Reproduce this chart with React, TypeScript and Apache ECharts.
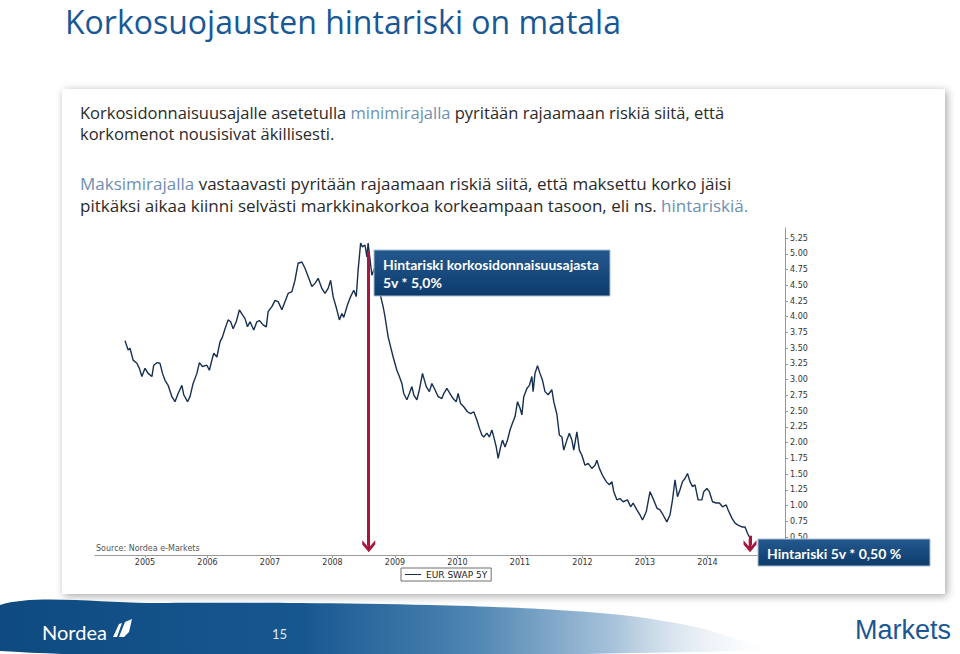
import React, { useEffect, useRef } from "react";
import * as echarts from "echarts";

const seriesName = "EUR SWAP 5Y";

const years = [
  2004.68, 2004.73, 2004.76, 2004.81, 2004.87, 2004.91, 2004.95, 2005.0, 2005.05, 2005.11,
  2005.14, 2005.19, 2005.24, 2005.28, 2005.32, 2005.37, 2005.43, 2005.48, 2005.53, 2005.59,
  2005.62, 2005.68, 2005.72, 2005.77, 2005.83, 2005.87, 2005.92, 2005.99, 2006.03, 2006.07,
  2006.1, 2006.15, 2006.2, 2006.24, 2006.28, 2006.33, 2006.37, 2006.41, 2006.46, 2006.51,
  2006.56, 2006.6, 2006.64, 2006.68, 2006.74, 2006.79, 2006.83, 2006.89, 2006.94, 2006.97,
  2007.03, 2007.08, 2007.13, 2007.19, 2007.24, 2007.29, 2007.35, 2007.4, 2007.45, 2007.51,
  2007.56, 2007.61, 2007.67, 2007.72, 2007.77, 2007.83, 2007.88, 2007.93, 2007.97, 2008.01,
  2008.07, 2008.11, 2008.15, 2008.18, 2008.24, 2008.29, 2008.34, 2008.38, 2008.41, 2008.45,
  2008.48, 2008.52, 2008.55, 2008.57, 2008.63, 2008.68, 2008.74, 2008.81, 2008.84, 2008.89,
  2008.93, 2008.97, 2009.03, 2009.07, 2009.11, 2009.14, 2009.19, 2009.23, 2009.27, 2009.3,
  2009.35, 2009.39, 2009.44, 2009.5, 2009.55, 2009.59, 2009.64, 2009.69, 2009.75, 2009.78,
  2009.83, 2009.88, 2009.93, 2009.98, 2010.01, 2010.05, 2010.1, 2010.16, 2010.21, 2010.26,
  2010.31, 2010.35, 2010.39, 2010.42, 2010.47, 2010.51, 2010.55, 2010.58, 2010.62, 2010.65,
  2010.69, 2010.72, 2010.76, 2010.8, 2010.84, 2010.88, 2010.92, 2010.96, 2011.0, 2011.03,
  2011.06, 2011.11, 2011.15, 2011.19, 2011.21, 2011.24, 2011.28, 2011.32, 2011.36, 2011.4,
  2011.45, 2011.51, 2011.54, 2011.59, 2011.63, 2011.67, 2011.7, 2011.75, 2011.79, 2011.83,
  2011.86, 2011.91, 2011.95, 2011.99, 2012.04, 2012.09, 2012.15, 2012.2, 2012.23, 2012.27,
  2012.32, 2012.38, 2012.43, 2012.47, 2012.5, 2012.55, 2012.6, 2012.65, 2012.72, 2012.77,
  2012.81, 2012.87, 2012.92, 2012.96, 2013.02, 2013.08, 2013.13, 2013.19, 2013.24, 2013.29,
  2013.35, 2013.4, 2013.44, 2013.48, 2013.52, 2013.56, 2013.6, 2013.64, 2013.68, 2013.72,
  2013.76, 2013.8, 2013.85, 2013.91, 2013.94, 2013.99, 2014.03, 2014.08, 2014.14, 2014.19,
  2014.24, 2014.3, 2014.33, 2014.39, 2014.44, 2014.49, 2014.55, 2014.6, 2014.64, 2014.67,
];

const swap5y = [
  3.62, 3.47, 3.5, 3.31, 3.26, 3.18, 3.05, 3.18, 3.1, 3.05,
  3.23, 3.27, 3.26, 3.1, 2.99, 2.91, 2.73, 2.65, 2.78, 2.91,
  2.76, 2.65, 2.73, 2.94, 3.1, 3.27, 3.21, 3.23, 3.15, 3.31,
  3.42, 3.36, 3.6, 3.68, 3.81, 3.95, 3.92, 3.81, 3.92, 4.11,
  4.03, 3.97, 3.84, 3.92, 3.79, 3.92, 3.94, 3.87, 3.84, 4.08,
  4.16, 4.26, 4.24, 4.11, 4.24, 4.37, 4.4, 4.58, 4.85, 4.87,
  4.77, 4.64, 4.48, 4.53, 4.61, 4.45, 4.37, 4.45, 4.58, 4.32,
  4.11, 3.95, 4.05, 3.99, 4.19, 4.32, 4.42, 4.32, 4.74, 5.17,
  5.11, 5.14, 4.95, 5.17, 4.66, 4.79, 4.45, 4.16, 4.0, 3.68,
  3.52, 3.36, 3.15, 3.05, 2.94, 2.78, 2.68, 2.78, 2.89, 2.76,
  2.68, 2.84, 3.1, 2.89, 2.81, 2.94, 2.84, 2.73, 2.7, 2.78,
  2.86, 2.78, 2.7, 2.65, 2.78, 2.62, 2.57, 2.49, 2.46, 2.49,
  2.36, 2.23, 2.12, 2.09, 2.15, 2.09, 2.2, 2.09, 1.93, 1.75,
  1.93, 2.04, 1.93, 2.04, 2.2, 2.31, 2.41, 2.65, 2.55, 2.44,
  2.73, 2.86, 2.91, 3.05, 2.81, 3.1, 3.22, 3.1, 2.99, 2.81,
  2.76, 2.84, 2.65, 2.45, 2.12, 2.09, 1.88, 2.04, 2.15, 2.04,
  1.88, 2.17, 1.88, 1.8, 1.64, 1.67, 1.59, 1.64, 1.72, 1.59,
  1.48, 1.38, 1.33, 1.38, 1.22, 1.09, 1.11, 1.06, 1.09, 0.98,
  1.04, 0.93, 0.85, 0.77, 0.9, 1.22, 1.11, 0.96, 0.93, 0.85,
  0.74, 0.85, 1.09, 1.41, 1.14, 1.25, 1.38, 1.43, 1.51, 1.38,
  1.3, 1.33, 1.09, 1.09, 1.22, 1.27, 1.22, 1.06, 1.04, 1.04,
  0.98, 1.01, 0.93, 0.8, 0.72, 0.69, 0.66, 0.66, 0.56, 0.5,
];

const yearTicks = [2005, 2006, 2007, 2008, 2009, 2010, 2011, 2012, 2013, 2014];
const rateTicks = [
  0.5, 0.75, 1.0, 1.25, 1.5, 1.75, 2.0, 2.25, 2.5, 2.75, 3.0, 3.25, 3.5, 3.75, 4.0,
  4.25, 4.5, 4.75, 5.0, 5.25,
];

// annotation arrows: [x (year), top value, bottom value]
const riskArrowHigh = [2008.58, 5.04, 0.37];
const riskArrowLow = [2014.68, 0.52, 0.37];

const titleText = "Korkosuojausten hintariski on matala";
const para1 =
  "{a|Korkosidonnaisuusajalle asetetulla }{b|minimirajalla}{a| pyritään rajaamaan riskiä siitä, että}\n{a|korkomenot nousisivat äkillisesti.}";
const para2 =
  "{b|Maksimirajalla}{a| vastaavasti pyritään rajaamaan riskiä siitä, että maksettu korko jäisi}\n{a|pitkäksi aikaa kiinni selvästi markkinakorkoa korkeampaan tasoon, eli ns. }{b|hintariskiä.}";
const box1Text = "Hintariski korkosidonnaisuusajasta\n5v * 5,0%";
const box2Text = "Hintariski 5v * 0,50 %";

const arrowSymbol =
  "path://M5,0 L10,5.5 L10,8.5 L6,4.2 L6,10 L4,10 L4,4.2 L0,8.5 L0,5.5 Z";

const RED = "#a5173f";
const BODY_FONT = "Open Sans";
const BOX_FONT = "Lato";

const boxFill = {
  type: "linear",
  x: 0,
  y: 0,
  x2: 0,
  y2: 1,
  colorStops: [
    { offset: 0, color: "#24598f" },
    { offset: 1, color: "#0d3b6c" },
  ],
};

export default function App() {
  const ref = useRef<HTMLDivElement>(null);

  useEffect(() => {
    if (!ref.current) return;
    const chart = echarts.init(ref.current, undefined, { renderer: "svg" });
    const data = years.map((y, i) => [y, swap5y[i]]);

    const option: any = {
      animation: false,
      backgroundColor: "#ffffff",
      textStyle: { fontFamily: "DejaVu Sans" },
      grid: { left: 95, right: 175, top: 228, bottom: 99, containLabel: false },
      legend: {
        data: [seriesName],
        left: 401,
        top: 568,
        borderColor: "#6f6f6f",
        borderWidth: 1,
        padding: [2, 4, 2, 4],
        itemWidth: 16,
        itemHeight: 1,
        icon: "rect",
        itemGap: 4,
        textStyle: { fontSize: 9, color: "#222", fontFamily: "DejaVu Sans" },
      },
      xAxis: {
        type: "value",
        min: 2004.2,
        max: 2015.24,
        axisLine: { show: true, lineStyle: { color: "#9a9a9a", width: 1 } },
        axisTick: { show: true, length: 3, customValues: yearTicks, lineStyle: { color: "#9a9a9a" } },
        axisLabel: {
          customValues: yearTicks,
          fontSize: 8,
          color: "#333",
          margin: 3,
          fontFamily: "DejaVu Sans",
          formatter: (v: number) => String(Math.round(v)),
        },
        splitLine: { show: false },
      },
      yAxis: {
        type: "value",
        position: "right",
        min: 0.214,
        max: 5.41,
        axisLine: { show: true, lineStyle: { color: "#7f9cb8", width: 1 } },
        axisTick: { show: true, length: 3, customValues: rateTicks, lineStyle: { color: "#7f9cb8" } },
        axisLabel: {
          customValues: rateTicks,
          fontSize: 8,
          color: "#333",
          margin: 5,
          fontFamily: "DejaVu Sans",
          formatter: (v: number) => v.toFixed(2),
        },
        splitLine: { show: false },
      },
      series: [
        {
          name: seriesName,
          type: "line",
          data,
          showSymbol: false,
          symbol: "none",
          lineStyle: { color: "#17304f", width: 1.4 },
          itemStyle: { color: "#17304f" },
          z: 3,
          markLine: {
            silent: true,
            symbol: ["none", arrowSymbol],
            symbolSize: [13, 14],
            label: { show: false },
            lineStyle: { color: RED, width: 3, type: "solid" },
            data: [
              [
                { coord: [riskArrowHigh[0], riskArrowHigh[1]] },
                { coord: [riskArrowHigh[0], riskArrowHigh[2]] },
              ],
              [
                { coord: [riskArrowLow[0], riskArrowLow[1]] },
                { coord: [riskArrowLow[0], riskArrowLow[2]] },
              ],
            ],
            itemStyle: { color: RED },
          },
        },
      ],
      graphic: [
        // panel
        {
          type: "rect",
          z: -10,
          shape: { x: 62, y: 89, width: 883, height: 505 },
          style: {
            fill: "#ffffff",
            shadowBlur: 8,
            shadowColor: "rgba(0,0,0,0.35)",
            shadowOffsetX: 2,
            shadowOffsetY: 2,
          },
        },
        // title
        {
          type: "text",
          z: 10,
          style: {
            x: 65,
            y: 4,
            text: titleText,
            fill: "#185896",
            font: `32px ${BODY_FONT}`,
            lineHeight: 34,
            verticalAlign: "top",
          },
        },
        // paragraphs
        {
          type: "text",
          z: 10,
          style: {
            x: 80,
            y: 102,
            text: para1,
            verticalAlign: "top",
            rich: {
              a: { fill: "#2a2a2a", fontSize: 16.5, fontFamily: BODY_FONT, lineHeight: 21 },
              b: { fill: "#6e8fb2", fontSize: 16.5, fontFamily: BODY_FONT, lineHeight: 21 },
            },
          },
        },
        {
          type: "text",
          z: 10,
          style: {
            x: 80,
            y: 172,
            text: para2,
            verticalAlign: "top",
            rich: {
              a: { fill: "#2a2a2a", fontSize: 17, fontFamily: BODY_FONT, lineHeight: 22 },
              b: { fill: "#6e8fb2", fontSize: 17, fontFamily: BODY_FONT, lineHeight: 22 },
            },
          },
        },
        // source
        {
          type: "text",
          z: 10,
          style: {
            x: 96,
            y: 548,
            text: "Source: Nordea e-Markets",
            fill: "#555",
            font: "8px DejaVu Sans",
            verticalAlign: "middle",
          },
        },
        // box 1
        {
          type: "rect",
          z: 100,
          shape: { x: 374, y: 250, width: 236, height: 46 },
          style: { fill: boxFill, stroke: "#a9bdd3", lineWidth: 1 },
        },
        {
          type: "text",
          z: 101,
          style: {
            x: 383,
            y: 255,
            text: box1Text,
            fill: "#ffffff",
            font: `bold 14px ${BOX_FONT}`,
            lineHeight: 18,
            verticalAlign: "top",
          },
        },
        // box 2
        {
          type: "rect",
          z: 100,
          shape: { x: 758, y: 539, width: 172, height: 27 },
          style: { fill: boxFill, stroke: "#a9bdd3", lineWidth: 1 },
        },
        {
          type: "text",
          z: 101,
          style: {
            x: 767,
            y: 553,
            text: box2Text,
            fill: "#ffffff",
            font: `bold 14px ${BOX_FONT}`,
            verticalAlign: "middle",
          },
        },
        // footer swoosh
        {
          type: "polygon",
          z: 5,
          shape: {
            points: [
              [0, 605],
              [150, 603],
              [300, 603],
              [430, 605],
              [540, 609],
              [630, 616],
              [700, 628],
              [745, 642],
              [770, 651],
              [0, 651],
            ],
            smooth: 0.3,
          },
          style: {
            fill: {
              type: "linear",
              x: 0,
              y: 0,
              x2: 1,
              y2: 0,
              colorStops: [
                { offset: 0, color: "#0e4a80" },
                { offset: 0.4, color: "#175790" },
                { offset: 0.62, color: "#4f86b3" },
                { offset: 0.8, color: "#a9c3da" },
                { offset: 1, color: "rgba(255,255,255,0.2)" },
              ],
            },
          },
        },
        // Nordea logo
        {
          type: "text",
          z: 10,
          style: {
            x: 42,
            y: 632,
            text: "Nordea",
            fill: "#ffffff",
            font: "20px Lato",
            verticalAlign: "middle",
          },
        },
        {
          type: "polygon",
          z: 10,
          shape: { points: [[113, 637], [119, 624], [122, 623], [117, 637]] },
          style: { fill: "#ffffff" },
        },
        {
          type: "polygon",
          z: 10,
          shape: { points: [[119, 637], [125, 622], [132, 619], [129, 632], [124, 637]] },
          style: { fill: "#ffffff" },
        },
        // page number
        {
          type: "text",
          z: 10,
          style: {
            x: 272,
            y: 634,
            text: "15",
            fill: "#dfe8f1",
            font: "13px Lato",
            verticalAlign: "middle",
          },
        },
        // Markets
        {
          type: "text",
          z: 10,
          style: {
            x: 855,
            y: 630,
            text: "Markets",
            fill: "#1b5791",
            font: "27px Liberation Sans",
            verticalAlign: "middle",
          },
        },
      ],
    };

    chart.setOption(option);
    return () => chart.dispose();
  }, []);

  return (
    <div
      ref={ref}
      style={{ position: "absolute", left: 0, top: 0, width: 960, height: 654 }}
    />
  );
}
